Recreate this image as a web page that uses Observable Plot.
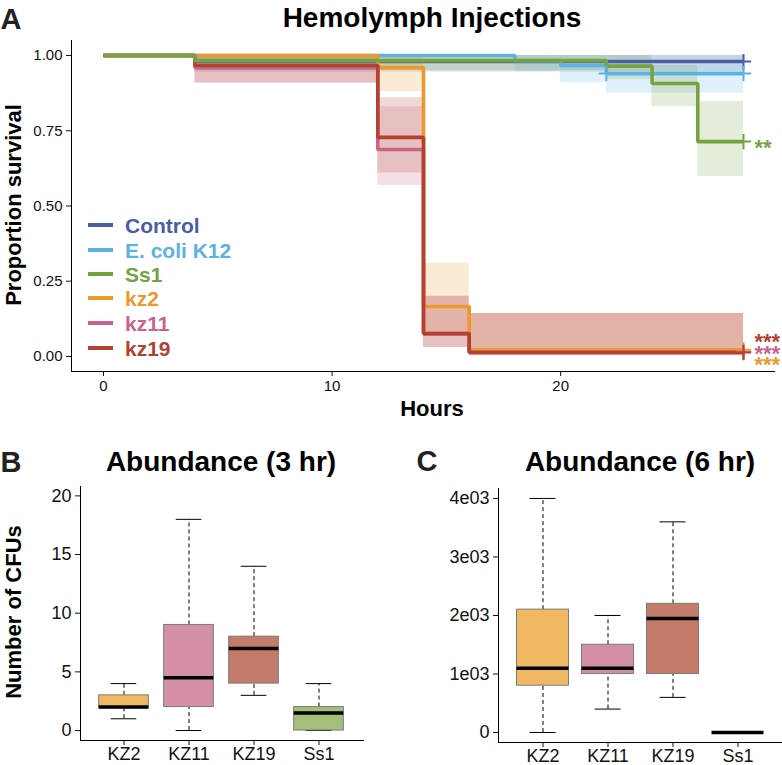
<!DOCTYPE html>
<html>
<head>
<meta charset="utf-8">
<script src="https://cdn.jsdelivr.net/npm/d3@7"></script>
<script src="https://cdn.jsdelivr.net/npm/@observablehq/plot@0.6"></script>
<style>
  body { margin: 0; background: #fff; font-family: "Liberation Sans", Arial, sans-serif; }
  #root { position: relative; width: 782px; height: 765px; overflow: hidden; background: #fff; }
  .ctr { position: absolute; transform: translate(-50%, -50%); white-space: nowrap; line-height: 1; }
  .letter { font-weight: bold; font-size: 29px; color: #222; }
  .title { font-weight: bold; font-size: 28px; color: #000; }
  .axtitle { font-weight: bold; font-size: 22px; color: #000; }
  .legrow { position: absolute; display: flex; align-items: center; height: 24px; transform: translateY(-50%); }
  .legkey { width: 25px; height: 4px; margin-right: 12px; }
  .legtxt { font-weight: bold; font-size: 21px; line-height: 1; }
</style>
</head>
<body>
<div id="root"></div>
<script>
// ---------------- DATA ----------------
const groups = ["Control", "E. coli K12", "Ss1", "kz2", "kz11", "kz19"];
const groupColors = ["#4b5ea4", "#5db3df", "#75a33f", "#e99a2b", "#c9638b", "#b3412f"];

// Kaplan–Meier steps (hours, survival, CI lower, CI upper)
const controlHours = [0, 4, 28];
const controlSurv  = [1, 0.98, 0.98];
const controlLower = [1, 0.945, 0.945];
const controlUpper = [1, 1, 1];

const ecoliHours = [0, 18, 20, 22, 28];
const ecoliSurv  = [1, 0.983, 0.967, 0.94, 0.94];
const ecoliLower = [1, 0.947, 0.91, 0.875, 0.875];
const ecoliUpper = [1, 1, 1, 1, 1];

const ss1Hours = [0, 4, 22, 24, 26, 28];
const ss1Surv  = [1, 0.983, 0.965, 0.907, 0.714, 0.714];
const ss1Lower = [1, 0.95, 0.92, 0.83, 0.598, 0.598];
const ss1Upper = [1, 1, 1, 0.967, 0.847, 0.847];

const kz2Hours = [0, 12, 14, 16, 28];
const kz2Surv  = [1, 0.96, 0.166, 0.022, 0.022];
const kz2Lower = [1, 0.88, 0.07, 0.003, 0.003];
const kz2Upper = [1, 1, 0.31, 0.143, 0.143];

const kz11Hours = [0, 4, 12, 14, 16, 28];
const kz11Surv  = [1, 0.96, 0.688, 0.076, 0.015, 0.015];
const kz11Lower = [1, 0.907, 0.568, 0.03, 0.002, 0.002];
const kz11Upper = [1, 1, 0.83, 0.2, 0.143, 0.143];

const kz19Hours = [0, 4, 12, 14, 16, 28];
const kz19Surv  = [1, 0.967, 0.728, 0.076, 0.013, 0.013];
const kz19Lower = [1, 0.91, 0.61, 0.03, 0.002, 0.002];
const kz19Upper = [1, 1, 0.86, 0.2, 0.143, 0.143];

// censor marks (group, hour)
const censorGroups = ["Control", "E. coli K12", "E. coli K12", "Ss1", "kz2", "kz11", "kz19"];
const censorHours  = [28, 22, 28, 28, 28, 28, 28];

// significance labels
const starGroups = ["Ss1", "kz19", "kz11", "kz2"];
const starLabels = ["**", "***", "***", "***"];
const starShift  = [6, -11, 2, 15]; // vertical text offsets (px)

const survTicksX = [0, 10, 20];
const survTicksY = [0, 0.25, 0.5, 0.75, 1];

// Box plots
const boxCats  = ["KZ2", "KZ11", "KZ19", "Ss1"];
const boxFills = ["#f0b862", "#d48fa9", "#c47b69", "#a3bf7a"];

const cfu3Low  = [1, 0, 3, 0];
const cfu3Q1   = [1.9, 2, 4, 0];
const cfu3Med  = [2, 4.5, 7, 1.5];
const cfu3Q3   = [3, 9, 8, 2];
const cfu3High = [4, 18, 14, 4];
const cfu3Ticks = [0, 5, 10, 15, 20];

const cfu6Low  = [0, 400, 600, 0];
const cfu6Q1   = [800, 1000, 1000, 0];
const cfu6Med  = [1100, 1100, 1950, 0];
const cfu6Q3   = [2100, 1500, 2200, 0];
const cfu6High = [4000, 2000, 3600, 0];
const cfu6Ticks = [0, 1000, 2000, 3000, 4000];
const cfu6TickLabels = ["0", "1e03", "2e03", "3e03", "4e03"];

// ---------------- BUILD ----------------
const root = document.getElementById("root");
const FONT = '"Liberation Sans", Arial, sans-serif';

const series = {
  "Control": [controlHours, controlSurv, controlLower, controlUpper],
  "E. coli K12": [ecoliHours, ecoliSurv, ecoliLower, ecoliUpper],
  "Ss1": [ss1Hours, ss1Surv, ss1Lower, ss1Upper],
  "kz2": [kz2Hours, kz2Surv, kz2Lower, kz2Upper],
  "kz11": [kz11Hours, kz11Surv, kz11Lower, kz11Upper],
  "kz19": [kz19Hours, kz19Surv, kz19Lower, kz19Upper]
};
const rowsOf = g => {
  const [h, s, lo, up] = series[g];
  return h.map((hr, i) => ({group: g, hour: hr, surv: s[i], lower: lo[i], upper: up[i]}));
};
const finalSurv = g => { const s = series[g][1]; return s[s.length - 1]; };
const survAt = (g, hr) => {
  const [h, s] = series[g];
  let v = s[0];
  h.forEach((t, i) => { if (t <= hr) v = s[i]; });
  return v;
};

const censorRows = censorGroups.map((g, i) => ({group: g, hour: censorHours[i], surv: survAt(g, censorHours[i])}));
const starRows = starGroups.map((g, i) => ({group: g, label: starLabels[i], hour: 28, surv: finalSurv(g), dy: starShift[i]}));

const xDomA = [-1.4, 29.4];
const yDomA = [-0.05, 1.05];
const lineOrder = ["Control", "E. coli K12", "kz2", "kz11", "kz19", "Ss1"];

const plotA = Plot.plot({
  width: 782, height: 420,
  marginLeft: 71, marginRight: 7, marginTop: 40, marginBottom: 49,
  style: {fontFamily: FONT, fontSize: "15px", color: "#111", background: "transparent"},
  x: {domain: xDomA},
  y: {domain: yDomA},
  color: {domain: groups, range: groupColors},
  marks: [
    ...groups.map(g => Plot.areaY(rowsOf(g), {x: "hour", y1: "lower", y2: "upper", fill: "group", fillOpacity: 0.2, curve: "step-after"})),
    ...lineOrder.map(g => Plot.line(rowsOf(g), {x: "hour", y: "surv", stroke: "group", strokeWidth: 3.6, curve: "step-after", strokeLinejoin: "miter", strokeLinecap: "butt"})),
    Plot.dot(censorRows, {x: "hour", y: "surv", stroke: "group", symbol: "plus", r: 5, strokeWidth: 2}),
    ...starRows.map(d => Plot.text([d], {x: "hour", y: "surv", text: "label", fill: "group", dx: 11, dy: d.dy, textAnchor: "start", fontSize: 22, fontWeight: "bold"})),
    Plot.ruleX([xDomA[0]], {stroke: "#000", strokeWidth: 1}),
    Plot.ruleY([yDomA[0]], {stroke: "#000", strokeWidth: 1}),
    Plot.axisX({ticks: survTicksX, tickSize: 5, tickPadding: 4, label: null}),
    Plot.axisY({ticks: survTicksY, tickFormat: d3.format(".2f"), tickSize: 5, tickPadding: 4, label: null})
  ]
});
plotA.style.position = "absolute"; plotA.style.left = "0px"; plotA.style.top = "0px";
root.appendChild(plotA);

function boxPlot({low, q1, med, q3, high, yDomain, yTicks, tickFormat, xRange, width, height, margins, boxW, capW}) {
  const rows = boxCats.map((c, i) => ({cat: c, fill: boxFills[i], low: low[i], q1: q1[i], med: med[i], q3: q3[i], high: high[i]}));
  const step = (xRange[1] - xRange[0]) / boxCats.length;
  const boxInset = (step - boxW) / 2, capInset = (step - capW) / 2;
  return Plot.plot({
    width, height,
    marginLeft: margins[0], marginRight: margins[1], marginTop: margins[2], marginBottom: margins[3],
    style: {fontFamily: FONT, fontSize: "18px", color: "#111", background: "transparent", overflow: "visible"},
    x: {type: "band", domain: boxCats, range: xRange, padding: 0},
    y: {domain: yDomain},
    marks: [
      Plot.ruleX(rows, {x: "cat", y1: "q3", y2: "high", stroke: "#000", strokeWidth: 1, strokeDasharray: "4,3"}),
      Plot.ruleX(rows, {x: "cat", y1: "low", y2: "q1", stroke: "#000", strokeWidth: 1, strokeDasharray: "4,3"}),
      Plot.tickY(rows, {x: "cat", y: "high", stroke: "#000", strokeWidth: 1, insetLeft: capInset, insetRight: capInset}),
      Plot.tickY(rows, {x: "cat", y: "low", stroke: "#000", strokeWidth: 1, insetLeft: capInset, insetRight: capInset}),
      Plot.barY(rows, {x: "cat", y1: "q1", y2: "q3", fill: "fill", stroke: "#7b7b7b", strokeWidth: 1, insetLeft: boxInset, insetRight: boxInset}),
      Plot.tickY(rows, {x: "cat", y: "med", stroke: "#000", strokeWidth: 3.5, insetLeft: boxInset, insetRight: boxInset}),
      Plot.frame({anchor: "left", stroke: "#000"}),
      Plot.frame({anchor: "bottom", stroke: "#000"}),
      Plot.axisY({ticks: yTicks, tickFormat, tickSize: 5, tickPadding: 4, label: null}),
      Plot.axisX({tickSize: 5, tickPadding: 2, label: null})
    ]
  });
}

const plotB = boxPlot({
  low: cfu3Low, q1: cfu3Q1, med: cfu3Med, q3: cfu3Q3, high: cfu3High,
  yDomain: [-0.85, 20.8], yTicks: cfu3Ticks, tickFormat: d => String(d),
  xRange: [90.35, 351.65], width: 391, height: 295, margins: [80, 28, 16, 25], boxW: 50, capW: 26
});
plotB.style.position = "absolute"; plotB.style.left = "0px"; plotB.style.top = "470px";
root.appendChild(plotB);

const plotC = boxPlot({
  low: cfu6Low, q1: cfu6Q1, med: cfu6Med, q3: cfu6Q3, high: cfu6High,
  yDomain: [-171, 4170], yTicks: cfu6Ticks, tickFormat: d => cfu6TickLabels[cfu6Ticks.indexOf(d)],
  xRange: [118.5, 378.5], width: 391, height: 295, margins: [107, 0, 18, 23], boxW: 52, capW: 26
});
plotC.style.position = "absolute"; plotC.style.left = "391px"; plotC.style.top = "470px";
root.appendChild(plotC);

// ---------------- TEXT / LEGEND ----------------
function addText(txt, cls, x, y, rotate) {
  const d = document.createElement("div");
  d.className = "ctr " + cls;
  d.textContent = txt;
  d.style.left = x + "px"; d.style.top = y + "px";
  if (rotate) d.style.transform = "translate(-50%, -50%) rotate(-90deg)";
  root.appendChild(d);
}
addText("A", "letter", 11, 19);
addText("Hemolymph Injections", "title", 432, 18);
addText("Proportion survival", "axtitle", 14, 205, true);
addText("Hours", "axtitle", 432, 409);
addText("B", "letter", 11, 462);
addText("Abundance (3 hr)", "title", 221, 462);
addText("Number of CFUs", "axtitle", 14, 612, true);
addText("C", "letter", 427, 461);
addText("Abundance (6 hr)", "title", 640, 462);

const legendY = [225, 250, 274, 298, 323, 348];
groups.forEach((g, i) => {
  const row = document.createElement("div");
  row.className = "legrow";
  row.style.left = "88px"; row.style.top = legendY[i] + "px";
  const key = document.createElement("div");
  key.className = "legkey"; key.style.background = groupColors[i];
  const t = document.createElement("span");
  t.className = "legtxt"; t.style.color = groupColors[i]; t.textContent = g;
  row.appendChild(key); row.appendChild(t);
  root.appendChild(row);
});
</script>
</body>
</html>
